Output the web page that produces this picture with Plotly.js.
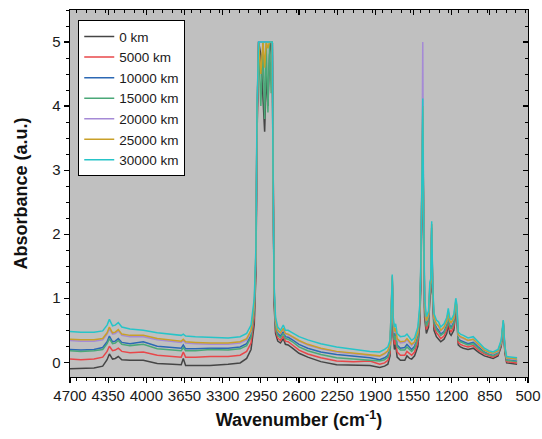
<!DOCTYPE html>
<html><head><meta charset="utf-8">
<script src="https://cdn.plot.ly/plotly-3.0.1.min.js"></script>
<style>html,body{margin:0;padding:0;background:#fff;}#chart{width:542px;height:439px;}</style>
</head><body><div id="chart"></div>
<script>
const wavenumber = [
 4700,4600,4480,4400,4360,4339,4310,4285,4257,4225,
 4150,4028,3900,3760,3680,3661,3640,3550,3416,3250,
 3140,3080,3040,3010,2995,2985,2970,2950,2930,2915,
 2900,2885,2870,2855,2845,2838,2828,2815,2795,2770,
 2744,2725,2700,2660,2600,2520,2400,2255,2100,1949,
 1860,1815,1785,1765,1752,1745,1736,1725,1714,1700,
 1670,1630,1610,1585,1567,1540,1510,1492,1482,1472,
 1465,1458,1448,1432,1412,1400,1392,1383,1374,1362,
 1340,1320,1300,1270,1245,1231,1218,1205,1180,1162,
 1152,1140,1120,1093,1050,1002,950,900,860,820,
 775,745,727,712,696,650,600];

const km0 = [
 -0.10,-0.10,-0.09,-0.06,0.04,0.13,0.05,0.06,0.09,0.04,
 0.03,0.03,-0.02,-0.03,-0.04,0.06,-0.05,-0.05,-0.05,-0.03,
 -0.01,0.06,0.20,0.60,1.40,3.50,5.00,4.80,4.20,3.60,
 4.50,4.00,4.80,5.00,5.00,2.60,0.90,0.45,0.33,0.30,
 0.37,0.28,0.27,0.22,0.14,0.08,0.01,-0.04,-0.05,-0.05,
 -0.08,-0.06,-0.03,0.10,0.70,1.25,0.40,0.20,0.28,0.08,
 0.03,0.03,0.10,0.06,0.05,0.10,0.25,0.60,1.30,2.80,
 3.60,2.30,0.70,0.45,0.55,1.00,1.10,2.00,1.00,0.50,
 0.40,0.36,0.32,0.36,0.45,0.60,0.45,0.42,0.50,0.80,
 0.70,0.27,0.24,0.22,0.20,0.22,0.15,0.10,0.08,0.06,
 0.10,0.25,0.60,0.15,-0.01,-0.02,-0.03];

const km5000 = [
 0.05,0.04,0.05,0.08,0.17,0.25,0.18,0.19,0.22,0.17,
 0.15,0.16,0.11,0.09,0.08,0.16,0.08,0.08,0.09,0.09,
 0.11,0.17,0.30,0.70,1.50,3.60,5.00,5.00,5.00,5.00,
 5.00,5.00,5.00,5.00,5.00,3.30,1.00,0.50,0.38,0.34,
 0.41,0.33,0.32,0.27,0.19,0.13,0.07,0.02,0.01,0.02,
 -0.03,-0.01,0.03,0.15,0.75,1.28,0.46,0.28,0.35,0.16,
 0.11,0.11,0.17,0.13,0.11,0.16,0.32,0.67,1.37,2.85,
 3.70,2.35,0.77,0.51,0.60,1.05,1.15,2.05,1.05,0.56,
 0.46,0.42,0.37,0.41,0.51,0.65,0.51,0.47,0.56,0.84,
 0.74,0.31,0.28,0.26,0.24,0.26,0.18,0.13,0.10,0.08,
 0.12,0.27,0.61,0.17,0.01,0.00,-0.01];

const km10000 = [
 0.20,0.19,0.20,0.23,0.32,0.41,0.32,0.33,0.37,0.31,
 0.29,0.32,0.25,0.23,0.22,0.27,0.21,0.21,0.22,0.22,
 0.24,0.29,0.42,0.82,1.62,3.80,5.00,5.00,5.00,5.00,
 5.00,5.00,5.00,5.00,5.00,2.80,1.08,0.58,0.45,0.41,
 0.48,0.40,0.39,0.35,0.28,0.22,0.16,0.12,0.09,0.07,
 0.04,0.07,0.11,0.23,0.82,1.32,0.55,0.38,0.45,0.27,
 0.22,0.23,0.28,0.23,0.20,0.25,0.41,0.76,1.46,2.90,
 3.80,2.40,0.86,0.59,0.68,1.13,1.20,2.10,1.10,0.64,
 0.54,0.50,0.44,0.48,0.58,0.72,0.58,0.54,0.63,0.90,
 0.80,0.37,0.34,0.32,0.29,0.31,0.23,0.16,0.13,0.11,
 0.15,0.30,0.63,0.20,0.04,0.03,0.02];

const km15000 = [
 0.18,0.17,0.18,0.20,0.29,0.37,0.29,0.30,0.34,0.28,
 0.26,0.28,0.21,0.19,0.18,0.23,0.18,0.18,0.20,0.19,
 0.21,0.26,0.39,0.80,1.60,3.80,5.00,4.00,5.00,3.80,
 5.00,3.90,5.00,4.20,5.00,2.80,1.05,0.55,0.42,0.38,
 0.45,0.37,0.36,0.32,0.24,0.18,0.12,0.07,0.05,0.04,
 0.02,0.04,0.08,0.20,0.80,1.30,0.52,0.35,0.41,0.24,
 0.19,0.19,0.24,0.19,0.17,0.22,0.38,0.73,1.43,2.90,
 3.90,2.40,0.83,0.56,0.66,1.10,1.18,2.10,1.08,0.61,
 0.51,0.47,0.42,0.46,0.56,0.70,0.56,0.52,0.61,0.88,
 0.78,0.35,0.32,0.30,0.27,0.29,0.21,0.15,0.12,0.10,
 0.14,0.29,0.62,0.19,0.03,0.02,0.01];

const km20000 = [
 0.34,0.33,0.33,0.35,0.44,0.52,0.44,0.45,0.49,0.42,
 0.40,0.40,0.35,0.32,0.31,0.34,0.30,0.29,0.28,0.28,
 0.30,0.35,0.48,0.90,1.70,3.90,5.00,5.00,5.00,5.00,
 5.00,5.00,5.00,5.00,5.00,2.90,1.12,0.63,0.49,0.45,
 0.52,0.44,0.43,0.39,0.33,0.27,0.21,0.16,0.13,0.11,
 0.09,0.13,0.17,0.28,0.85,1.34,0.62,0.46,0.52,0.35,
 0.30,0.31,0.35,0.30,0.26,0.31,0.47,0.82,1.52,3.00,
 5.00,2.50,0.93,0.64,0.74,1.18,1.25,2.15,1.15,0.69,
 0.59,0.56,0.49,0.54,0.64,0.78,0.64,0.60,0.69,0.95,
 0.85,0.42,0.39,0.37,0.34,0.36,0.26,0.19,0.15,0.13,
 0.17,0.32,0.64,0.22,0.06,0.05,0.04];

const km25000 = [
 0.36,0.35,0.35,0.37,0.46,0.55,0.46,0.47,0.51,0.44,
 0.42,0.42,0.37,0.34,0.33,0.36,0.32,0.31,0.30,0.30,
 0.32,0.37,0.50,0.92,1.72,3.90,5.00,4.50,5.00,4.60,
 5.00,4.90,5.00,5.00,5.00,2.90,1.14,0.65,0.50,0.46,
 0.53,0.45,0.44,0.40,0.34,0.28,0.22,0.17,0.14,0.12,
 0.10,0.14,0.18,0.29,0.86,1.35,0.64,0.48,0.53,0.37,
 0.32,0.33,0.37,0.31,0.28,0.32,0.48,0.83,1.53,2.95,
 4.00,2.45,0.94,0.65,0.75,1.20,1.26,2.16,1.16,0.70,
 0.60,0.57,0.50,0.55,0.65,0.79,0.65,0.61,0.70,0.96,
 0.86,0.43,0.40,0.38,0.34,0.36,0.27,0.19,0.16,0.14,
 0.18,0.33,0.65,0.23,0.07,0.06,0.05];

const km30000 = [
 0.48,0.47,0.47,0.49,0.58,0.67,0.57,0.58,0.62,0.55,
 0.52,0.50,0.46,0.43,0.42,0.44,0.41,0.40,0.39,0.38,
 0.40,0.45,0.58,1.00,1.80,4.00,5.00,5.00,5.00,5.00,
 5.00,5.00,5.00,5.00,5.00,3.00,1.20,0.70,0.55,0.50,
 0.58,0.50,0.50,0.46,0.40,0.35,0.29,0.24,0.20,0.17,
 0.16,0.20,0.24,0.35,0.90,1.37,0.70,0.55,0.60,0.45,
 0.40,0.41,0.44,0.38,0.34,0.38,0.55,0.90,1.60,3.00,
 4.12,2.50,1.00,0.71,0.80,1.25,1.30,2.20,1.20,0.76,
 0.66,0.63,0.55,0.60,0.70,0.84,0.70,0.66,0.75,1.00,
 0.90,0.47,0.44,0.42,0.38,0.40,0.30,0.22,0.18,0.16,
 0.20,0.35,0.66,0.25,0.09,0.08,0.07];

const seriesNames = ['0 km','5000 km','10000 km','15000 km','20000 km','25000 km','30000 km'];
const seriesValues = [km0, km5000, km10000, km15000, km20000, km25000, km30000];
const seriesColors = ['#454545','#e8474a','#2c68b4','#4aa878','#a58ad6','#c9a028','#26c4c8'];

const xRange = [4700, 500];
const yRange = [-0.23, 5.5];

const traces = seriesValues.map((v, i) => ({
  type: 'scatter', mode: 'lines', x: wavenumber, y: v, name: seriesNames[i],
  line: {color: seriesColors[i], width: 1.5}
}));
traces.push({type:'scatter', mode:'lines', x:[], y:[], xaxis:'x2', yaxis:'y2', showlegend:false, hoverinfo:'skip'});

const font = 'Liberation Sans, Arial, sans-serif';
const axisCommon = {showgrid:false, zeroline:false, showline:true, linecolor:'#000', linewidth:1.3,
  tickcolor:'#000', tickwidth:1.2, tickfont:{family:font, size:15, color:'#1a1a1a'}};

const layout = {
  width: 542, height: 439,
  margin: {l: 70, r: 14, t: 10, b: 62},
  paper_bgcolor: '#ffffff', plot_bgcolor: '#c0c0c0',
  font: {family: font, color: '#1a1a1a'},
  showlegend: true,
  legend: {x: 0.018, y: 0.972, xanchor:'left', yanchor:'top', bgcolor:'#ffffff', bordercolor:'#000', borderwidth:1,
    font:{family:font, size:13.5, color:'#1a1a1a'}, tracegroupgap:0},
  xaxis: Object.assign({}, axisCommon, {range: xRange, tick0: 500, dtick: 350, ticks:'outside', ticklen:5,
    minor:{dtick:87.5, ticks:'outside', ticklen:3, tickcolor:'#000', tickwidth:1},
    title:{text:'Wavenumber (cm<sup>-1</sup>)', font:{family:font, size:18, color:'#111', weight:'bold'}, standoff:10}}),
  yaxis: Object.assign({}, axisCommon, {range: yRange, tick0: 0, dtick: 1, ticks:'outside', ticklen:5,
    minor:{dtick:0.25, ticks:'outside', ticklen:3, tickcolor:'#000', tickwidth:1},
    title:{text:'Absorbance (a.u.)', font:{family:font, size:18, color:'#111', weight:'bold'}, standoff:20}}),
  xaxis2: Object.assign({}, axisCommon, {range: xRange, overlaying:'x', side:'top', anchor:'y2', tick0:500, dtick:350,
    ticks:'inside', ticklen:5, showticklabels:false,
    minor:{dtick:87.5, ticks:'inside', ticklen:3, tickcolor:'#000', tickwidth:1}}),
  yaxis2: Object.assign({}, axisCommon, {range: yRange, overlaying:'y', side:'right', anchor:'x2', tick0:0, dtick:1,
    ticks:'inside', ticklen:5, showticklabels:false,
    minor:{dtick:0.25, ticks:'inside', ticklen:3, tickcolor:'#000', tickwidth:1}})
};

Plotly.newPlot('chart', traces, layout, {displayModeBar:false, staticPlot:true});
</script></body></html>
